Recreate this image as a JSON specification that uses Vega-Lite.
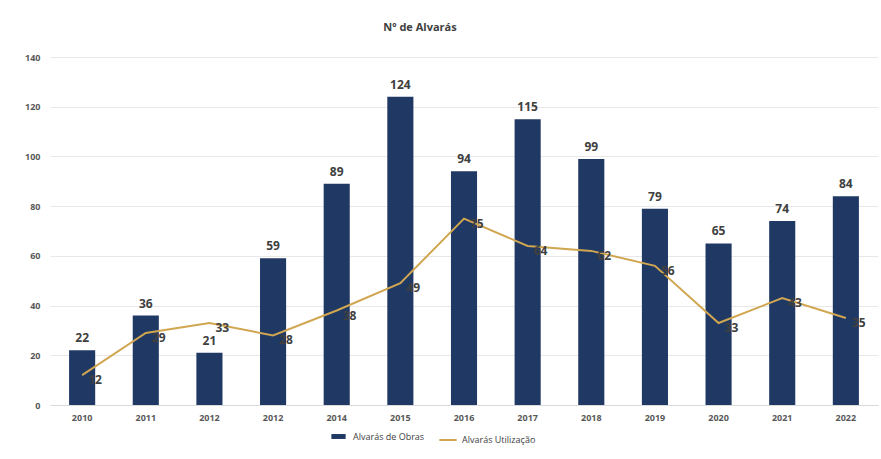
{
  "$schema": "https://vega.github.io/schema/vega-lite/v6.json",
  "width": 828,
  "height": 348,
  "autosize": {"type": "none"},
  "padding": {"left": 50, "top": 57, "right": 3, "bottom": 54},
  "background": "white",
  "title": {"text": "Nº de Alvarás", "fontSize": 11, "font": "Open Sans", "fontWeight": "bold", "color": "#404040", "offset": 20, "anchor": "middle", "dx": -44},
  "data": {"values": [
    {"ano": "2010", "obras": 22, "utilizacao": 12},
    {"ano": "2011", "obras": 36, "utilizacao": 29},
    {"ano": "2012", "obras": 21, "utilizacao": 33},
    {"ano": "2013", "obras": 59, "utilizacao": 28},
    {"ano": "2014", "obras": 89, "utilizacao": 38},
    {"ano": "2015", "obras": 124, "utilizacao": 49},
    {"ano": "2016", "obras": 94, "utilizacao": 75},
    {"ano": "2017", "obras": 115, "utilizacao": 64},
    {"ano": "2018", "obras": 99, "utilizacao": 62},
    {"ano": "2019", "obras": 79, "utilizacao": 56},
    {"ano": "2020", "obras": 65, "utilizacao": 33},
    {"ano": "2021", "obras": 74, "utilizacao": 43},
    {"ano": "2022", "obras": 84, "utilizacao": 35}
  ]},
  "encoding": {
    "x": {"field": "ano", "type": "ordinal", "scale": {"paddingInner": 0.59, "paddingOuter": 0.3},
      "axis": {"title": null, "labelAngle": 0, "labelFontSize": 9, "labelFont": "Open Sans", "labelFontWeight": "bold", "labelColor": "#595959", "ticks": false, "domainColor": "#d9d9d9", "labelPadding": 8,
        "labelExpr": "datum.value == '2013' ? '2012' : datum.value"}}
  },
  "layer": [
    {
      "mark": {"type": "bar"},
      "encoding": {
        "y": {"field": "obras", "type": "quantitative", "scale": {"domain": [0, 140]},
          "axis": {"title": null, "values": [0, 20, 40, 60, 80, 100, 120, 140], "labelFontSize": 9, "labelFont": "Open Sans", "labelFontWeight": "bold", "labelColor": "#595959", "ticks": false, "domain": false, "gridColor": "#e8e8e8", "labelPadding": 10}},
        "fill": {"datum": "Alvarás de Obras", "type": "nominal", "scale": {"range": ["#1f3864"]},
          "legend": {"title": null, "orient": "none", "legendX": 282, "legendY": 373, "symbolType": "M-1.3,-0.45H1.3V0.45H-1.3Z", "symbolSize": 120, "labelFontSize": 9, "labelFont": "Open Sans", "labelColor": "#404040", "labelOffset": 8}}
      }
    },
    {
      "mark": {"type": "text", "dy": -12, "fontSize": 12, "font": "Open Sans", "fontWeight": "bold", "color": "#404040"},
      "encoding": {
        "y": {"field": "obras", "type": "quantitative"},
        "text": {"field": "obras", "type": "quantitative"}
      }
    },
    {
      "mark": {"type": "line", "interpolate": "linear", "strokeWidth": 2},
      "encoding": {
        "y": {"field": "utilizacao", "type": "quantitative"},
        "stroke": {"datum": "Alvarás Utilização", "type": "nominal", "scale": {"range": ["#d1a650"]},
          "legend": {"title": null, "orient": "none", "legendX": 388, "legendY": 373, "symbolType": "stroke", "symbolSize": 300, "symbolStrokeWidth": 2, "labelFontSize": 9, "labelFont": "Open Sans", "labelColor": "#404040", "labelOffset": 4}}
      }
    },
    {
      "mark": {"type": "text", "align": "left", "dx": 6, "dy": 5, "fontSize": 12, "font": "Open Sans", "fontWeight": "bold", "color": "#404040"},
      "encoding": {
        "y": {"field": "utilizacao", "type": "quantitative"},
        "text": {"field": "utilizacao", "type": "quantitative"}
      }
    }
  ],
  "config": {"view": {"stroke": null}}
}
